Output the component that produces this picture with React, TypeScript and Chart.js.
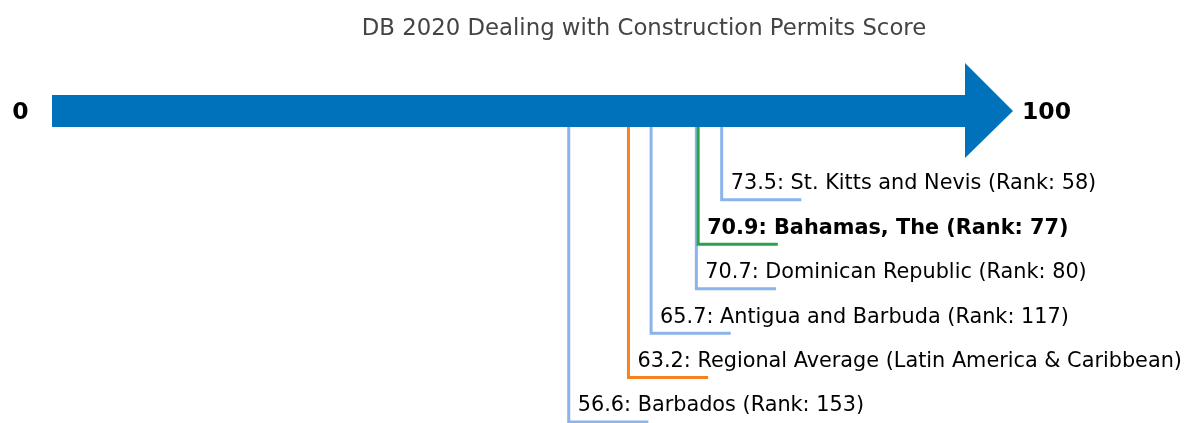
import React, { useEffect, useRef } from "react";
import { Chart, registerables } from "chart.js";

Chart.register(...registerables);

const TITLE = "DB 2020 Dealing with Construction Permits Score";
const AXIS_MIN = 0;
const AXIS_MAX = 100;
const AXIS_LABELS = ["0", "100"];

const ECONOMIES = [
  "St. Kitts and Nevis",
  "Bahamas, The",
  "Dominican Republic",
  "Antigua and Barbuda",
  "Regional Average (Latin America & Caribbean)",
  "Barbados",
];
const SCORES = [73.5, 70.9, 70.7, 65.7, 63.2, 56.6];
const RANKS: (number | null)[] = [58, 77, 80, 117, null, 153];
const LEVELS = [2, 3, 4, 5, 6, 7];
const HIGHLIGHT = [false, true, false, false, false, false];
const KINDS = ["peer", "focus", "peer", "peer", "region", "peer"];

const COLOR_BY_KIND: Record<string, string> = {
  peer: "#8AB4EA",
  focus: "#2CA24A",
  region: "#F5821F",
};
const ARROW_COLOR = "#0072BC";
const TAIL = 8.8; // horizontal leader length in score units
const FONT = "'DejaVu Sans', sans-serif";

const labelText = (i: number) =>
  `${SCORES[i].toFixed(1)}: ${ECONOMIES[i]}` +
  (RANKS[i] != null ? ` (Rank: ${RANKS[i]})` : "");

const arrowPlugin = {
  id: "arrowPlugin",
  afterDatasetsDraw(chart: any) {
    const { ctx, scales } = chart;
    const xs = scales.x;
    const ys = scales.y;
    const x0 = xs.getPixelForValue(AXIS_MIN);
    const x1 = xs.getPixelForValue(AXIS_MAX);
    const yc = ys.getPixelForValue(0);
    ctx.save();

    // title
    ctx.fillStyle = "#444";
    ctx.font = `22.8px ${FONT}`;
    ctx.textAlign = "center";
    ctx.textBaseline = "middle";
    ctx.fillText(TITLE, 644, 29);

    ctx.fillStyle = ARROW_COLOR;
    ctx.beginPath();
    ctx.moveTo(x0 - 4.5, yc - 16);
    ctx.lineTo(x1 + 3.5, yc - 16);
    ctx.lineTo(x1 + 3.5, yc - 48);
    ctx.lineTo(x1 + 51.5, yc);
    ctx.lineTo(x1 + 3.5, yc + 47);
    ctx.lineTo(x1 + 3.5, yc + 16);
    ctx.lineTo(x0 - 4.5, yc + 16);
    ctx.closePath();
    ctx.fill();

    ctx.fillStyle = "#000";
    ctx.font = `bold 23.5px ${FONT}`;
    ctx.textBaseline = "middle";
    ctx.textAlign = "right";
    ctx.fillText(AXIS_LABELS[0], x0 - 28, yc + 2);
    ctx.textAlign = "left";
    ctx.fillText(AXIS_LABELS[1], x1 + 60.5, yc + 2);

    // value labels
    SCORES.forEach((s, i) => {
      const px = xs.getPixelForValue(s);
      const py = ys.getPixelForValue(LEVELS[i]);
      ctx.font = `${HIGHLIGHT[i] ? "bold " : ""}20.8px ${FONT}`;
      ctx.fillStyle = "#000";
      ctx.textAlign = "left";
      ctx.textBaseline = "middle";
      ctx.fillText(labelText(i), px + 9, py - 16);
    });
    ctx.restore();
  },
};

export default function App() {
  const ref = useRef<HTMLCanvasElement | null>(null);
  useEffect(() => {
    if (!ref.current) return;
    const datasets = SCORES.map((s, i) => ({
      label: ECONOMIES[i],
      data: [
        { x: s, y: 0 },
        { x: s, y: LEVELS[i] },
        { x: s + TAIL, y: LEVELS[i] },
      ],
      borderColor: COLOR_BY_KIND[KINDS[i]],
      backgroundColor: COLOR_BY_KIND[KINDS[i]],
      borderWidth: 3,
      pointRadius: 0,
      tension: 0,
      fill: false,
      clip: false as any,
      borderJoinStyle: "miter" as const,
      borderCapStyle: "butt" as const,
    }));
    const chart = new Chart(ref.current, {
      type: "line",
      data: { datasets },
      options: {
        animation: false,
        responsive: false,
        layout: { padding: { left: 56.5, right: 225.5, top: 111, bottom: 1 } },
        scales: {
          x: { type: "linear", min: AXIS_MIN, max: AXIS_MAX, display: false },
          y: { type: "linear", min: 0, max: 7, reverse: true, display: false },
        },
        plugins: {
          legend: { display: false },
          tooltip: { enabled: false },
          title: { display: false },
        },
      },
      plugins: [arrowPlugin],
    });
    return () => chart.destroy();
  }, []);
  return (
    <div style={{ position: "absolute", left: 0, top: 0, width: 1187, height: 423, background: "#fff" }}>
      <canvas ref={ref} width={1187} height={423} />
    </div>
  );
}
